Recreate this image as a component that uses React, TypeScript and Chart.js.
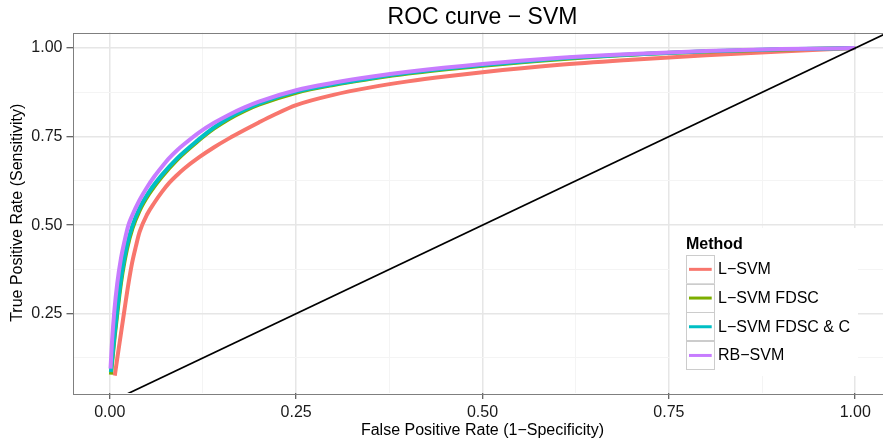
import React, { useEffect, useRef } from 'react';
import { Chart, registerables } from 'chart.js';

Chart.register(...registerables);

// ---------- texts ----------
const chartTitle = 'ROC curve − SVM';
const xAxisTitle = 'False Positive Rate (1−Specificity)';
const yAxisTitle = 'True Positive Rate (Sensitivity)';
const legendTitle = 'Method';
const methodNames = ['L−SVM', 'L−SVM FDSC', 'L−SVM FDSC & C', 'RB−SVM'];
const methodColors = ['#F8766D', '#7CAE00', '#00BFC4', '#C77CFF'];

// ---------- data (FPR / TPR per method) ----------
const lsvmFpr = [0.0067, 0.01, 0.013, 0.016, 0.02, 0.025, 0.03, 0.035, 0.04, 0.05, 0.06, 0.07, 0.08, 0.09, 0.1, 0.12, 0.14, 0.16, 0.18, 0.2, 0.22, 0.25, 0.3, 0.35, 0.4, 0.45, 0.5, 0.6, 0.7, 0.8, 0.9, 1.0];
const lsvmTpr = [0.075, 0.123, 0.166, 0.208, 0.265, 0.334, 0.394, 0.44, 0.481, 0.53, 0.564, 0.594, 0.62, 0.641, 0.66, 0.692, 0.72, 0.745, 0.768, 0.79, 0.811, 0.839, 0.868, 0.889, 0.906, 0.92, 0.932, 0.952, 0.967, 0.98, 0.99, 1.0];

const fdscFpr = [0.0015, 0.004, 0.0065, 0.0094, 0.013, 0.017, 0.023, 0.0303, 0.04, 0.0527, 0.07, 0.09, 0.117, 0.14, 0.16, 0.18, 0.2, 0.25, 0.3, 0.35, 0.4, 0.5, 0.6, 0.7, 0.8, 0.9, 1.0];
const fdscTpr = [0.078, 0.13, 0.183, 0.238, 0.304, 0.364, 0.432, 0.49, 0.541, 0.588, 0.637, 0.684, 0.735, 0.773, 0.8, 0.822, 0.84, 0.874, 0.896, 0.913, 0.928, 0.95, 0.968, 0.981, 0.99, 0.996, 1.0];

const fdscCFpr = [0.0015, 0.004, 0.0065, 0.0094, 0.013, 0.017, 0.023, 0.0303, 0.04, 0.0527, 0.07, 0.09, 0.117, 0.14, 0.16, 0.18, 0.2, 0.25, 0.3, 0.35, 0.4, 0.5, 0.6, 0.7, 0.8, 0.9, 1.0];
const fdscCTpr = [0.085, 0.14, 0.193, 0.249, 0.315, 0.375, 0.442, 0.498, 0.548, 0.594, 0.642, 0.688, 0.738, 0.776, 0.803, 0.825, 0.843, 0.877, 0.898, 0.915, 0.93, 0.952, 0.97, 0.982, 0.991, 0.9965, 1.0];

const rbFpr = [0.001, 0.003, 0.006, 0.01, 0.015, 0.02, 0.025, 0.03, 0.04, 0.05, 0.06, 0.07, 0.08, 0.09, 0.1, 0.12, 0.14, 0.16, 0.18, 0.2, 0.25, 0.3, 0.35, 0.4, 0.5, 0.6, 0.7, 0.8, 0.9, 1.0];
const rbTpr = [0.095, 0.171, 0.255, 0.335, 0.406, 0.457, 0.5, 0.527, 0.571, 0.607, 0.638, 0.665, 0.69, 0.711, 0.729, 0.762, 0.789, 0.812, 0.832, 0.849, 0.881, 0.902, 0.919, 0.933, 0.955, 0.972, 0.9836, 0.9918, 0.9972, 1.0];

// reference line y = x (abline), spans the panel
const refLine = [-0.1, 1.1];

// ---------- axes ----------
const xRange = [-0.05, 1.05];
const yRange = [0.026, 1.044];
const xTickValues = [0, 0.125, 0.25, 0.375, 0.5, 0.625, 0.75, 0.875, 1.0];
const yTickValues = [0.125, 0.25, 0.375, 0.5, 0.625, 0.75, 0.875, 1.0];

const FONT = "'Liberation Sans', Arial, Helvetica, sans-serif";
const isMajor = (v: number) => Math.abs(v * 4 - Math.round(v * 4)) < 1e-9;

const toPoints = (xs: number[], ys: number[]) => xs.map((x, i) => ({ x, y: ys[i] }));

const panelPlugin = {
  id: 'panelAndLegend',
  afterDatasetsDraw(chart: any) {
    const { ctx, chartArea: a } = chart;
    ctx.save();
    ctx.strokeStyle = '#7F7F7F';
    ctx.lineWidth = 1;
    ctx.strokeRect(Math.round(a.left) + 0.5, Math.round(a.top) + 0.5, Math.round(a.right - a.left), Math.round(a.bottom - a.top));
    ctx.restore();
  },
  afterDraw(chart: any) {
    const { ctx } = chart;
    ctx.save();
    // legend background
    ctx.fillStyle = '#FFFFFF';
    ctx.fillRect(670, 228, 188, 148);
    // title
    ctx.fillStyle = '#000000';
    ctx.font = `bold 16px ${FONT}`;
    ctx.textAlign = 'left';
    ctx.textBaseline = 'alphabetic';
    ctx.fillText(legendTitle, 686, 249);
    const keyX = 686;
    const keyTop = 255;
    const keySize = 28.7;
    methodNames.forEach((name, i) => {
      const y0 = keyTop + i * keySize;
      ctx.fillStyle = '#FFFFFF';
      ctx.fillRect(keyX, y0, keySize, keySize);
      ctx.strokeStyle = '#CCCCCC';
      ctx.lineWidth = 1;
      ctx.strokeRect(keyX + 0.5, Math.round(y0) + 0.5, 28, 28);
      ctx.strokeStyle = methodColors[i];
      ctx.lineWidth = 3;
      ctx.beginPath();
      ctx.moveTo(keyX + 3, y0 + keySize / 2);
      ctx.lineTo(keyX + keySize - 3, y0 + keySize / 2);
      ctx.stroke();
      ctx.fillStyle = '#000000';
      ctx.font = `16px ${FONT}`;
      ctx.textBaseline = 'middle';
      ctx.fillText(name, 718, y0 + keySize / 2 + 0.5);
    });
    ctx.restore();
  },
};

export default function App() {
  const canvasRef = useRef<HTMLCanvasElement | null>(null);

  useEffect(() => {
    if (!canvasRef.current) return;
    const seriesFpr = [lsvmFpr, fdscFpr, fdscCFpr, rbFpr];
    const seriesTpr = [lsvmTpr, fdscTpr, fdscCTpr, rbTpr];
    const curveSets = methodNames.map((name, i) => ({
      label: name,
      data: toPoints(seriesFpr[i], seriesTpr[i]),
      borderColor: methodColors[i],
      backgroundColor: methodColors[i],
      borderWidth: 4,
      pointRadius: 0,
      fill: false,
      cubicInterpolationMode: 'monotone' as const,
      order: 4 - i,
    }));
    const chart = new Chart(canvasRef.current, {
      type: 'line',
      data: {
        datasets: [
          ...curveSets,
          {
            label: 'reference',
            data: toPoints(refLine, refLine),
            borderColor: '#000000',
            borderWidth: 1.7,
            pointRadius: 0,
            fill: false,
            clip: 0,
            order: 0,
          },
        ],
      },
      options: {
        animation: false,
        responsive: false,
        maintainAspectRatio: false,
        layout: { padding: { left: 0, right: 7.5, top: 0, bottom: 0 } },
        plugins: {
          legend: { display: false },
          tooltip: { enabled: false },
          title: {
            display: true,
            text: chartTitle,
            fullSize: false,
            color: '#000000',
            font: { family: FONT, size: 23, weight: 'normal' },
            padding: { top: 3.4, bottom: 1.5 },
          },
        },
        scales: {
          x: {
            type: 'linear',
            min: xRange[0],
            max: xRange[1],
            afterBuildTicks: (s: any) => {
              s.ticks = xTickValues.map((v) => ({ value: v }));
            },
            afterFit: (s: any) => {
              s.height = 50;
            },
            ticks: {
              autoSkip: false,
              maxRotation: 0,
              padding: 4,
              color: '#1A1A1A',
              font: { family: FONT, size: 16 },
              callback: (v: any) => (isMajor(Number(v)) ? Number(v).toFixed(2) : ''),
            },
            grid: {
              color: (c: any) => (isMajor(c.tick.value) ? '#E6E6E6' : '#F4F4F4'),
              lineWidth: (c: any) => (isMajor(c.tick.value) ? 1.5 : 1),
              tickColor: (c: any) => (isMajor(c.tick.value) ? '#333333' : 'rgba(0,0,0,0)'),
              tickWidth: 1,
              tickLength: 6,
              drawTicks: true,
            },
            border: { display: false },
            title: {
              display: true,
              text: xAxisTitle,
              color: '#000000',
              font: { family: FONT, size: 16 },
              padding: { top: 0, bottom: 2.9 },
            },
          },
          y: {
            type: 'linear',
            min: yRange[0],
            max: yRange[1],
            afterBuildTicks: (s: any) => {
              s.ticks = yTickValues.map((v) => ({ value: v }));
            },
            afterFit: (s: any) => {
              s.width = 72.5;
            },
            ticks: {
              autoSkip: false,
              padding: 4,
              color: '#1A1A1A',
              font: { family: FONT, size: 16 },
              callback: (v: any) => (isMajor(Number(v)) ? Number(v).toFixed(2) : ''),
            },
            grid: {
              color: (c: any) => (isMajor(c.tick.value) ? '#E6E6E6' : '#F4F4F4'),
              lineWidth: (c: any) => (isMajor(c.tick.value) ? 1.5 : 1),
              tickColor: (c: any) => (isMajor(c.tick.value) ? '#333333' : 'rgba(0,0,0,0)'),
              tickWidth: 1,
              tickLength: 6,
              drawTicks: true,
            },
            border: { display: false },
            title: {
              display: true,
              text: yAxisTitle,
              color: '#000000',
              font: { family: FONT, size: 16 },
              padding: { top: 8.4, bottom: 0 },
            },
          },
        },
      },
      plugins: [panelPlugin],
    } as any);
    return () => chart.destroy();
  }, []);

  return (
    <div style={{ position: 'fixed', left: 0, top: 0, width: 883, height: 443, overflow: 'hidden', background: '#FFFFFF' }}>
      <canvas ref={canvasRef} width={900} height={443} style={{ display: 'block' }} />
    </div>
  );
}
